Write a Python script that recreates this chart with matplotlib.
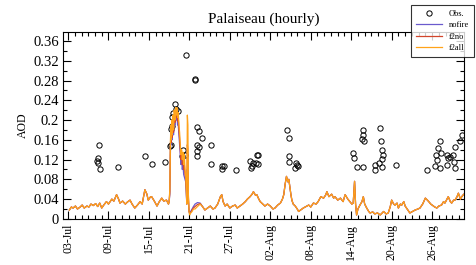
import numpy as np
import pandas as pd
import matplotlib
matplotlib.use("Agg")
import matplotlib.pyplot as plt
import matplotlib.dates as mdates
from matplotlib.ticker import MultipleLocator, FixedLocator

plt.rcParams['font.family'] = ['Liberation Serif', 'DejaVu Serif']

start = pd.Timestamp('2018-07-01')

# observations: days after 1 Jul, AOD
obs_day = [6.60, 6.41, 6.35, 6.45, 6.70, 9.46, 13.38, 14.51, 16.44, 17.13,
           17.28, 17.28, 17.38, 17.38, 17.62, 17.88, 18.02, 18.37, 18.97, 19.02,
           19.36, 19.51, 20.84, 20.86, 21.18, 21.18, 21.18, 21.18, 21.44, 21.48,
           21.93, 23.22, 23.26, 24.80, 24.89, 25.15, 26.97, 29.00, 29.11, 29.26,
           29.50, 30.00, 29.90, 30.24, 30.24, 34.54, 34.83, 34.79, 34.83, 35.68,
           35.83, 35.93, 36.08, 44.33, 44.43, 44.83, 45.58, 45.72, 45.81, 45.92,
           45.81, 47.55, 47.55, 48.19, 48.30, 48.40, 48.55, 48.55, 48.55, 48.69,
           50.66, 55.31, 56.45, 56.70, 56.60, 57.19, 56.94, 57.30, 57.19, 58.28,
           58.42, 58.19, 58.68, 59.17, 59.27, 59.42, 59.42, 60.16, 60.41]
obs_aod = [0.150, 0.123, 0.117, 0.113, 0.100, 0.105, 0.128, 0.111, 0.115, 0.148,
           0.182, 0.150, 0.187, 0.206, 0.214, 0.233, 0.223, 0.219, 0.128, 0.139,
           0.130, 0.332, 0.283, 0.281, 0.186, 0.150, 0.138, 0.128, 0.177, 0.146,
           0.163, 0.150, 0.111, 0.107, 0.100, 0.107, 0.099, 0.117, 0.103, 0.107,
           0.114, 0.130, 0.114, 0.130, 0.111, 0.179, 0.163, 0.128, 0.116, 0.103,
           0.114, 0.109, 0.106, 0.133, 0.123, 0.105, 0.161, 0.180, 0.170, 0.157,
           0.105, 0.109, 0.099, 0.114, 0.184, 0.157, 0.140, 0.121, 0.105, 0.130,
           0.109, 0.099, 0.106, 0.119, 0.130, 0.157, 0.143, 0.133, 0.103, 0.130,
           0.123, 0.109, 0.126, 0.130, 0.116, 0.103, 0.146, 0.157, 0.170]

# model, before the fire event (all runs agree)
pre_day = [2.2, 2.5, 2.75, 3.1, 3.4, 3.8, 4.1, 4.4, 4.8, 5.1, 5.4, 5.75, 6.1,
           6.4, 6.7, 7.0, 7.3, 7.7, 8.0, 8.5, 8.8, 9.2, 9.5, 9.7, 10.1, 10.5,
           10.8, 11.2, 11.5, 11.9, 12.3, 12.7, 13.0, 13.4, 13.7, 13.9, 14.2,
           14.4, 14.8, 15.2, 15.5, 15.9, 16.2, 16.6, 16.9]
pre_aod = [0.018, 0.024, 0.022, 0.026, 0.020, 0.024, 0.028, 0.022, 0.026, 0.024,
           0.030, 0.027, 0.031, 0.025, 0.032, 0.022, 0.028, 0.035, 0.030, 0.040,
           0.036, 0.049, 0.040, 0.032, 0.036, 0.030, 0.034, 0.038, 0.030, 0.022,
           0.028, 0.035, 0.030, 0.059, 0.050, 0.038, 0.044, 0.045, 0.036, 0.026,
           0.034, 0.042, 0.036, 0.038, 0.030]

# fire event window, one list per run
fire_day = [17.0, 17.1, 17.18, 17.25, 17.3, 17.38, 17.45, 17.55, 17.65, 17.75,
            17.85, 17.95, 18.05, 18.15, 18.25, 18.35, 18.45, 18.55, 18.65, 18.75,
            18.85, 18.95, 19.05, 19.15, 19.25, 19.35, 19.45, 19.55, 19.62, 19.7,
            19.78, 19.85, 19.95, 20.05, 20.2, 20.4, 20.6, 20.84, 21.2, 21.6]
nofire_fire = [0.035, 0.050, 0.130, 0.170, 0.150, 0.180, 0.160, 0.190, 0.170, 0.200,
               0.190, 0.210, 0.200, 0.210, 0.190, 0.190, 0.170, 0.150, 0.130, 0.110,
               0.120, 0.100, 0.110, 0.090, 0.085, 0.080, 0.075, 0.050, 0.030, 0.100,
               0.090, 0.040, 0.015, 0.012, 0.015, 0.020, 0.025, 0.030, 0.033, 0.032]
f2no_fire = [0.035, 0.055, 0.140, 0.180, 0.155, 0.190, 0.165, 0.200, 0.175, 0.210,
             0.195, 0.218, 0.205, 0.218, 0.198, 0.205, 0.180, 0.162, 0.140, 0.120,
             0.130, 0.110, 0.122, 0.100, 0.110, 0.090, 0.082, 0.055, 0.030, 0.150,
             0.140, 0.045, 0.015, 0.010, 0.013, 0.018, 0.022, 0.025, 0.029, 0.031]
f2all_fire = [0.035, 0.060, 0.150, 0.190, 0.160, 0.200, 0.170, 0.210, 0.180, 0.220,
              0.200, 0.225, 0.210, 0.225, 0.205, 0.215, 0.190, 0.175, 0.150, 0.130,
              0.140, 0.120, 0.135, 0.110, 0.130, 0.100, 0.090, 0.060, 0.030, 0.210,
              0.190, 0.050, 0.015, 0.008, 0.012, 0.015, 0.020, 0.020, 0.025, 0.030]

# model, after the fire event (all runs agree)
post_day = [22.0, 22.3, 22.7, 23.1, 23.5, 23.8, 24.2, 24.6, 24.8, 25.0, 25.3,
            25.6, 26.0, 26.4, 26.8, 27.1, 27.5, 27.9, 28.3, 28.6, 29.0, 29.3,
            29.5, 29.8, 30.0, 30.3, 30.5, 30.9, 31.2, 31.6, 32.0, 32.4, 32.7,
            33.1, 33.5, 33.8, 34.0, 34.2, 34.4, 34.6, 34.75, 34.9, 35.05, 35.2,
            35.4, 35.7, 36.0, 36.2, 36.5, 36.9, 37.3, 37.7, 38.0, 38.4, 38.8,
            39.1, 39.5, 39.9, 40.2, 40.4, 40.7, 41.1, 41.4, 41.6, 42.0, 42.4,
            42.8, 43.1, 43.5, 43.8, 44.1, 44.3, 44.5, 44.65, 44.8, 45.0, 45.3,
            45.6, 45.8, 46.0, 46.3, 46.6, 46.8, 47.2, 47.5, 47.9, 48.3, 48.6,
            48.8, 49.2, 49.5, 49.8, 50.0, 50.3, 50.5, 50.8, 51.0, 51.3, 51.5,
            51.8, 52.0, 52.4, 52.7, 53.1, 53.5, 53.9, 54.2, 54.6, 55.0, 55.3,
            55.5, 55.8, 56.0, 56.4, 56.7, 57.0, 57.4, 57.7, 57.9, 58.2, 58.4,
            58.7, 58.9, 59.2, 59.4, 59.7, 59.9, 60.2, 60.4, 60.7, 60.9]
post_aod = [0.024, 0.018, 0.022, 0.026, 0.020, 0.022, 0.030, 0.045, 0.049, 0.035,
            0.026, 0.030, 0.022, 0.026, 0.028, 0.022, 0.026, 0.030, 0.035, 0.040,
            0.045, 0.050, 0.055, 0.048, 0.049, 0.040, 0.035, 0.030, 0.026, 0.030,
            0.026, 0.020, 0.022, 0.028, 0.032, 0.040, 0.049, 0.070, 0.086, 0.075,
            0.080, 0.065, 0.050, 0.038, 0.030, 0.026, 0.020, 0.015, 0.018, 0.022,
            0.025, 0.028, 0.024, 0.032, 0.030, 0.035, 0.045, 0.042, 0.048, 0.055,
            0.045, 0.050, 0.042, 0.045, 0.038, 0.042, 0.035, 0.049, 0.040, 0.035,
            0.030, 0.032, 0.076, 0.030, 0.008, 0.020, 0.028, 0.035, 0.045, 0.030,
            0.022, 0.015, 0.012, 0.014, 0.010, 0.012, 0.008, 0.012, 0.015, 0.010,
            0.012, 0.025, 0.038, 0.030, 0.028, 0.032, 0.022, 0.030, 0.028, 0.035,
            0.026, 0.018, 0.012, 0.015, 0.018, 0.020, 0.022, 0.030, 0.042, 0.038,
            0.035, 0.030, 0.028, 0.024, 0.022, 0.026, 0.028, 0.035, 0.032, 0.040,
            0.045, 0.035, 0.032, 0.038, 0.038, 0.045, 0.052, 0.040, 0.045, 0.050,
            0.049]


def to_time(days):
    return start + pd.to_timedelta(np.asarray(days), unit='D')


t_model = to_time(pre_day + fire_day + post_day)
runs = [('nofire', nofire_fire, '#6a5acd'),
        ('f2no', f2no_fire, '#d2452b'),
        ('f2all', f2all_fire, '#ffa31a')]

fig = plt.figure(figsize=(4.77, 2.65), dpi=100)
ax = fig.add_axes([0.132, 0.174, 0.841, 0.705])

# circles first, model lines drawn over them
ax.plot(to_time(obs_day), obs_aod, 'o', mfc='none', mec='black', ms=3.8,
        mew=0.7, label='Obs.', zorder=1.5)
for name, fire_vals, col in runs:
    ax.plot(t_model, pre_aod + fire_vals + post_aod, color=col, lw=0.9,
            label=name, zorder=2)

ax.set_xlim(start + pd.Timedelta(days=1.25), start + pd.Timedelta(days=60.75))
ax.set_ylim(0, 0.378)

major_dates = pd.date_range('2018-07-03', periods=10, freq='6D')
ax.xaxis.set_major_locator(FixedLocator(mdates.date2num(major_dates)))
ax.xaxis.set_major_formatter(mdates.DateFormatter('%d-%b'))
ax.xaxis.set_minor_locator(mdates.DayLocator())
ax.yaxis.set_major_locator(MultipleLocator(0.04))
ax.yaxis.set_minor_locator(MultipleLocator(0.02))
ax.yaxis.set_major_formatter(plt.FuncFormatter(lambda v, p: '0' if abs(v) < 1e-9 else f'{v:.2f}'.rstrip('0')))

ax.tick_params(which='both', direction='in', top=True, right=True, width=0.8)
ax.tick_params(which='major', length=6)
ax.tick_params(which='minor', length=3)
ax.tick_params(axis='x', labelrotation=90, labelsize=8.5)
ax.tick_params(axis='y', labelsize=10.5, pad=3)
for sp in ax.spines.values():
    sp.set_linewidth(0.8)

ax.set_ylabel('AOD', fontsize=8.5, labelpad=3)
ax.set_title('Palaiseau (hourly)', fontsize=11, pad=7)

leg = fig.legend(loc='upper left', bbox_to_anchor=(0.853, 0.995), fontsize=6,
                 frameon=True, fancybox=False, edgecolor='black',
                 handlelength=3.2, borderpad=0.55, labelspacing=0.4)
leg.get_frame().set_linewidth(0.8)

fig.savefig('out.png', dpi=100)
